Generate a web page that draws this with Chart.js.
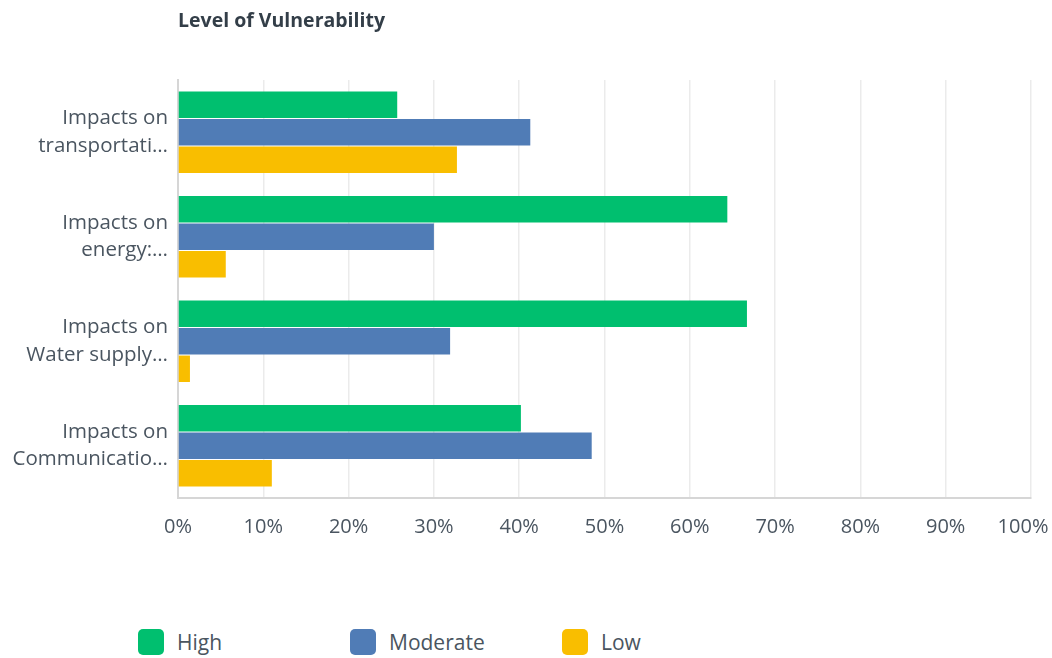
<!DOCTYPE html>
<html>
<head>
<meta charset="utf-8">
<script src="https://cdn.jsdelivr.net/npm/chart.js@4"></script>
<style>
  body { margin: 0; background: #fff; font-family: "Open Sans", "Noto Sans", sans-serif; }
  #wrap { position: relative; width: 1052px; height: 658px; }
  #title { position: absolute; left: 178px; top: 6px; font-size: 19.5px; font-weight: 700; color: #333e48; }
  #chartBox { position: absolute; left: 0; top: 0; width: 1052px; height: 560px; }
  #legend { position: absolute; left: 138px; top: 628px; display: flex; }
  .item { width: 212px; display: flex; align-items: center; font-size: 21px; color: #4a5560; }
  .swatch { width: 26px; height: 26px; border-radius: 5px; margin-right: 13px; }
</style>
</head>
<body>
<div id="wrap">
  <div id="chartBox"><canvas id="myChart"></canvas></div>
  <div id="title">Level of Vulnerability</div>
  <div id="legend"></div>
</div>
<script>
const categories = [
  ['Impacts on', 'transportati\u2026'],
  ['Impacts on', 'energy:\u2026'],
  ['Impacts on', 'Water supply\u2026'],
  ['Impacts on', 'Communicatio\u2026']
];
const seriesNames = ['High', 'Moderate', 'Low'];
const seriesColors = ['#00bf6f', '#507cb6', '#f9be00'];
const high = [25.7, 64.4, 66.7, 40.2];
const moderate = [41.3, 30.0, 31.9, 48.5];
const low = [32.7, 5.6, 1.4, 11.0];
const xTicks = [0, 10, 20, 30, 40, 50, 60, 70, 80, 90, 100];

const values = [high, moderate, low];

// keep the "100%" label inside the canvas, like the original
const lastLabelNudge = {
  id: 'lastLabelNudge',
  beforeDraw: function (chart) {
    const items = chart.scales.x.getLabelItems();
    const last = items[items.length - 1];
    if (last && !last._nudged) {
      last.options.translation = [last.options.translation[0] - 8, last.options.translation[1]];
      last._nudged = true;
    }
  }
};

document.addEventListener('DOMContentLoaded', function () {
  const ctx = document.getElementById('myChart');

  new Chart(ctx, {
    type: 'bar',
    data: {
      labels: categories,
      datasets: seriesNames.map(function (name, i) {
        return {
          label: name,
          data: values[i],
          backgroundColor: seriesColors[i],
          borderWidth: 0,
          categoryPercentage: 0.79,
          barPercentage: 0.96
        };
      })
    },
    options: {
      indexAxis: 'y',
      responsive: true,
      maintainAspectRatio: false,
      animation: false,
      layout: { padding: { top: 80, right: 0, left: 0, bottom: 0 } },
      plugins: {
        legend: { display: false },
        tooltip: { enabled: false }
      },
      scales: {
        x: {
          min: 0,
          max: 100,
          afterBuildTicks: function (scale) {
            scale.ticks = xTicks.map(function (v) { return { value: v }; });
          },
          afterFit: function (scale) {
            scale.height = 62;
            scale.paddingLeft = 0;
            scale.paddingRight = 21;
          },
          grid: { color: '#ebebeb', lineWidth: 1.5, drawTicks: false },
          border: { display: true, color: '#d6d6d6', width: 2 },
          ticks: {
            padding: 17,
            color: '#4a5560',
            font: { family: 'Open Sans', size: 20 },
            callback: function (value) { return value + '%'; }
          }
        },
        y: {
          afterFit: function (scale) { scale.width = 178; },
          grid: { display: false, drawTicks: false },
          border: { display: true, color: '#d6d6d6', width: 2 },
          ticks: {
            padding: 10,
            color: '#4a5560',
            font: { family: 'Open Sans', size: 20.5, lineHeight: 1.35 }
          }
        }
      }
    },
    plugins: [lastLabelNudge]
  });

  const legend = document.getElementById('legend');
  seriesNames.forEach(function (name, i) {
    const item = document.createElement('div');
    item.className = 'item';
    item.innerHTML = '<span class="swatch" style="background:' + seriesColors[i] + '"></span>' + name;
    legend.appendChild(item);
  });
});
</script>
</body>
</html>
